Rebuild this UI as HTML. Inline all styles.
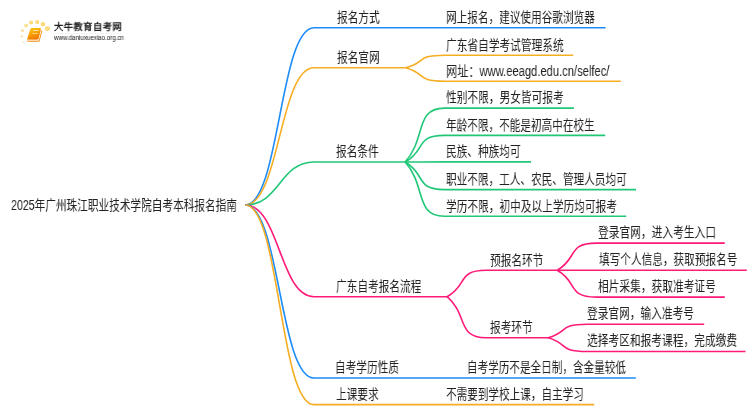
<!DOCTYPE html>
<html lang="zh-CN"><head><meta charset="utf-8"><title>mindmap</title>
<style>
html,body{margin:0;padding:0;background:#fff;width:750px;height:410px;overflow:hidden;position:relative}
.lines{position:absolute;left:0;top:0}
.lines path{fill:none;stroke-width:1.6;stroke-linecap:butt}
.logo{position:absolute;left:0;top:0}
.t{position:absolute;font-family:"Liberation Sans",sans-serif;font-size:14px;line-height:20px;color:#222;white-space:nowrap;transform-origin:0 0;will-change:transform}
</style></head><body>
<svg class="logo" width="130" height="50" viewBox="0 0 130 50">
<defs>
<linearGradient id="bk" x1="0.2" y1="0" x2="0.6" y2="1"><stop offset="0" stop-color="#ffc80f"/><stop offset="1" stop-color="#f07600"/></linearGradient>
<radialGradient id="dt" cx="0.45" cy="0.45" r="0.6"><stop offset="0" stop-color="#ffe9a6"/><stop offset="0.6" stop-color="#fdd665"/><stop offset="1" stop-color="#fcc94a"/></radialGradient>
</defs>
<circle cx="23.5" cy="42.2" r="0.9" fill="#fde9c4"/>
<circle cx="21.75" cy="36.4" r="1.2" fill="#fde0a6"/>
<circle cx="22.4" cy="30.6" r="1.45" fill="#fdd98a"/>
<circle cx="26.05" cy="25.6" r="1.8" fill="url(#dt)" opacity="0.85"/>
<circle cx="31.1" cy="22.4" r="1.9" fill="url(#dt)"/>
<circle cx="37.25" cy="22.0" r="2.0" fill="url(#dt)"/>
<circle cx="42.9" cy="24.1" r="2.2" fill="url(#dt)"/>
<circle cx="47.35" cy="28.6" r="2.4" fill="url(#dt)"/>
<path d="M31.8 29.6 L42.5 30.6 L39.6 40.9 Q39.3 41.7 38.4 41.7 L28.0 41.7 Q26.9 41.7 27.2 40.6 Z" fill="#f28c12"/>
<path d="M27.5 39.3 L39.0 39.3 L38.7 40.7 L27.3 40.7 Z" fill="#fff6e4"/>
<path d="M40.9 29.0 L41.6 30.3 L39.0 40.0 L38.3 39.5 Z" fill="#fff6e4"/>
<path d="M31.6 28.1 L40.2 28.1 Q41.1 28.1 40.9 29.0 L38.2 38.6 Q38.0 39.4 37.2 39.4 L28.0 39.4 Q27.0 39.4 27.3 38.5 L30.4 28.9 Q30.7 28.1 31.6 28.1 Z" fill="url(#bk)"/>
<path d="M33.3 30.1 L38.6 30.1 L38.4 30.9 L33.1 30.9 Z" fill="#ffe2a0"/>
<path d="M32.5 32.9 L37.9 32.9 L37.7 33.7 L32.3 33.7 Z" fill="#ffe2a0"/>
<rect x="53" y="33.0" width="69" height="0.6" fill="#ebebeb"/>
</svg>
<svg class="lines" width="750" height="410" viewBox="0 0 750 410"><path d="M245.2 205.0C279.60 205.0 279.60 27.8 314.0 27.8H605.6" stroke="#1e8cf8"/><path d="M245.2 205.0C279.60 205.0 279.60 67.8 314.0 67.8H405.7" stroke="#f5ad22"/><path d="M405.7 67.8C426.87 62.28 415.11 55.2 444.90 55.2H573.2" stroke="#f5ad22"/><path d="M405.7 67.8C426.87 73.67 415.11 81.2 444.90 81.2H620.8" stroke="#f5ad22"/><path d="M245.2 205.0C279.60 205.0 279.60 162.0 314.0 162.0H405.2" stroke="#1fc777"/><path d="M405.2 162.0C426.37 138.39 414.61 108.1 444.40 108.1H573.9" stroke="#1fc777"/><path d="M405.2 162.0C426.37 150.35 414.61 135.4 444.40 135.4H605.2" stroke="#1fc777"/><path d="M405.2 162.0C426.37 161.96 414.61 161.9 444.40 161.9H531" stroke="#1fc777"/><path d="M405.2 162.0C426.37 174.09 414.61 189.6 444.40 189.6H636" stroke="#1fc777"/><path d="M405.2 162.0C426.37 185.74 414.61 216.2 444.40 216.2H626.2" stroke="#1fc777"/><path d="M245.2 205.0C279.60 205.0 279.60 296.7 314.0 296.7H447.1" stroke="#ff1a78"/><path d="M447.1 296.7C468.27 285.14 456.51 270.3 486.30 270.3H557.2" stroke="#ff1a78"/><path d="M447.1 296.7C468.27 314.70 456.51 337.8 486.30 337.8H548.1" stroke="#ff1a78"/><path d="M557.2 270.3C578.37 258.39 566.61 243.1 596.40 243.1H724.8" stroke="#ff1a78"/><path d="M557.2 270.3C578.37 270.26 566.61 270.2 596.40 270.2H746.8" stroke="#ff1a78"/><path d="M557.2 270.3C578.37 282.04 566.61 297.1 596.40 297.1H724.8" stroke="#ff1a78"/><path d="M548.1 337.8C569.27 331.89 557.51 324.3 587.30 324.3H704.2" stroke="#ff1a78"/><path d="M548.1 337.8C569.27 343.80 557.51 351.5 587.30 351.5H745.5" stroke="#ff1a78"/><path d="M245.2 205.0C279.60 205.0 279.60 378.0 314.0 378.0H635.8" stroke="#1e8cf8"/><path d="M245.2 205.0C279.60 205.0 279.60 404.6 314.0 404.6H594.2" stroke="#f5ad22"/></svg>
<div class="t" style="left:53.70px;top:17.00px;font-size:9.5px;font-weight:bold;color:#222;transform:scaleX(0.9739)">大牛教育自考网</div><div class="t" style="left:53.70px;top:28.40px;font-size:6.4px;font-weight:normal;color:#111;transform:scaleX(0.9625)">www.daniuxuexiao.org.cn</div><div class="t" style="left:11.39px;top:195.45px;transform:scaleX(0.7607)">2025年广州珠江职业技术学院自考本科报名指南</div><div class="t" style="left:336.55px;top:7.15px;transform:scaleX(0.7615)">报名方式</div><div class="t" style="left:336.55px;top:47.15px;transform:scaleX(0.7615)">报名官网</div><div class="t" style="left:336.35px;top:141.35px;transform:scaleX(0.7615)">报名条件</div><div class="t" style="left:335.59px;top:276.05px;transform:scaleX(0.7615)">广东自考报名流程</div><div class="t" style="left:335.03px;top:357.35px;transform:scaleX(0.7615)">自考学历性质</div><div class="t" style="left:335.79px;top:383.95px;transform:scaleX(0.7615)">上课要求</div><div class="t" style="left:446.09px;top:7.05px;transform:scaleX(0.7595)">网上报名，建议使用谷歌浏览器</div><div class="t" style="left:446.09px;top:34.55px;transform:scaleX(0.7641)">广东省自学考试管理系统</div><div class="t" style="left:445.65px;top:60.55px;transform:scaleX(0.7985)">网址：www.eeagd.edu.cn/selfec/</div><div class="t" style="left:446.39px;top:87.45px;transform:scaleX(0.7645)">性别不限，男女皆可报考</div><div class="t" style="left:446.39px;top:114.75px;transform:scaleX(0.7585)">年龄不限，不能是初高中在校生</div><div class="t" style="left:446.39px;top:141.25px;transform:scaleX(0.7615)">民族、种族均可</div><div class="t" style="left:446.39px;top:168.95px;transform:scaleX(0.7593)">职业不限，工人、农民、管理人员均可</div><div class="t" style="left:446.39px;top:195.55px;transform:scaleX(0.7631)">学历不限，初中及以上学历均可报考</div><div class="t" style="left:489.85px;top:249.65px;transform:scaleX(0.7615)">预报名环节</div><div class="t" style="left:489.85px;top:317.15px;transform:scaleX(0.7615)">报考环节</div><div class="t" style="left:466.64px;top:357.15px;transform:scaleX(0.7567)">自考学历不是全日制，含金量较低</div><div class="t" style="left:446.39px;top:384.35px;transform:scaleX(0.7572)">不需要到学校上课，自主学习</div><div class="t" style="left:597.88px;top:221.80px;transform:scaleX(0.7662)">登录官网，进入考生入口</div><div class="t" style="left:598.65px;top:248.90px;transform:scaleX(0.7602)">填写个人信息，获取预报名号</div><div class="t" style="left:597.88px;top:275.80px;transform:scaleX(0.7651)">相片采集，获取准考证号</div><div class="t" style="left:587.29px;top:303.00px;transform:scaleX(0.7638)">登录官网，输入准考号</div><div class="t" style="left:587.28px;top:330.20px;transform:scaleX(0.7655)">选择考区和报考课程，完成缴费</div>
</body></html>
